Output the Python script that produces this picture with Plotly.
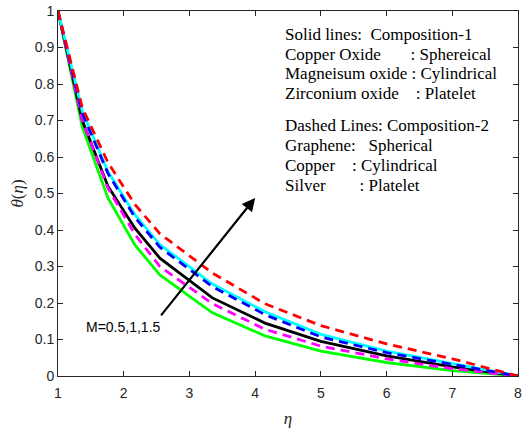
import plotly.graph_objects as go

eta = [1, 1.37, 1.76, 2.17, 2.55, 3.35, 4.15, 5.0, 6.0, 7.0, 8.0]
theta_green = [1, 0.682, 0.488, 0.359, 0.277, 0.173, 0.110, 0.068, 0.037, 0.015, 0]
theta_black = [1, 0.700, 0.520, 0.405, 0.323, 0.214, 0.145, 0.095, 0.055, 0.025, 0]
theta_magenta = [1, 0.700, 0.515, 0.388, 0.300, 0.198, 0.128, 0.082, 0.047, 0.020, 0]
theta_blue = [1, 0.720, 0.555, 0.435, 0.353, 0.245, 0.168, 0.107, 0.064, 0.031, 0]
theta_cyan = [1, 0.725, 0.560, 0.442, 0.360, 0.252, 0.176, 0.114, 0.068, 0.033, 0]
theta_red = [1, 0.735, 0.585, 0.470, 0.390, 0.282, 0.198, 0.138, 0.088, 0.047, 0]

series = [
    (theta_green, "#00ff00", "solid"),
    (theta_black, "#000000", "solid"),
    (theta_cyan, "#00ffff", "solid"),
    (theta_magenta, "#ff00ff", "dash"),
    (theta_blue, "#0000ff", "dash"),
    (theta_red, "#ff0000", "dash"),
]

fig = go.Figure()
for ys, col, dash in series:
    fig.add_trace(go.Scatter(x=eta, y=ys, mode="lines",
                             line=dict(color=col, width=2.8,
                                       dash="9px,6px" if dash == "dash" else "solid"),
                             showlegend=False))

legend_lines = [
    ("Solid lines:\u00a0\u00a0Composition-1", 0.935),
    ("Copper Oxide\u00a0\u00a0\u00a0\u00a0\u00a0\u00a0\u00a0: Sphereical", 0.882),
    ("Magneisum oxide : Cylindrical", 0.828),
    ("Zirconium oxide\u00a0\u00a0\u00a0\u00a0: Platelet", 0.773),
    ("Dashed Lines: Composition-2", 0.685),
    ("Graphene:\u00a0\u00a0\u00a0Spherical", 0.632),
    ("Copper\u00a0\u00a0\u00a0\u00a0: Cylindrical", 0.577),
    ("Silver\u00a0\u00a0\u00a0\u00a0\u00a0\u00a0\u00a0\u00a0: Platelet", 0.522),
]
for txt, yv in legend_lines:
    fig.add_annotation(x=4.42, y=yv, xref="x", yref="y", text=txt, showarrow=False,
                       xanchor="left", yanchor="middle",
                       font=dict(family="Liberation Serif", size=17, color="#000000"))

fig.add_annotation(x=4.0, y=0.488, ax=2.55, ay=0.162, xref="x", yref="y", axref="x", ayref="y",
                   text="", showarrow=True, arrowhead=2, arrowsize=1.2, arrowwidth=2.2,
                   arrowcolor="#000000")
fig.add_annotation(x=1.39, y=0.134, xref="x", yref="y", text="M=0.5,1,1.5", showarrow=False,
                   xanchor="left", yanchor="middle",
                   font=dict(family="Liberation Sans", size=14, color="#000000"))

axis_common = dict(showline=True, linecolor="#262626", linewidth=1, mirror="ticks",
                   ticks="inside", ticklen=5, tickcolor="#262626", showgrid=False,
                   zeroline=False, automargin=False,
                   tickfont=dict(family="Liberation Sans", size=14, color="#262626"))

fig.update_xaxes(range=[1, 8], tickmode="array", tickvals=[1, 2, 3, 4, 5, 6, 7, 8],
                 ticklabelstandoff=4,
                 title=dict(text="<i>η</i>", font=dict(family="Liberation Serif", size=17, color="#262626"), standoff=18),
                 **axis_common)
fig.update_yaxes(range=[0, 1], tickmode="array",
                 tickvals=[0, 0.1, 0.2, 0.3, 0.4, 0.5, 0.6, 0.7, 0.8, 0.9, 1],
                 ticktext=["0", "0.1", "0.2", "0.3", "0.4", "0.5", "0.6", "0.7", "0.8", "0.9", "1"],
                 title=dict(text="<i>θ</i>(<i>η</i>)", font=dict(family="Liberation Serif", size=17, color="#262626"), standoff=6),
                 **axis_common)

fig.update_layout(width=525, height=428, margin=dict(l=58, r=7, t=11, b=52),
                  plot_bgcolor="white", paper_bgcolor="white")

fig.write_html("out.html")
